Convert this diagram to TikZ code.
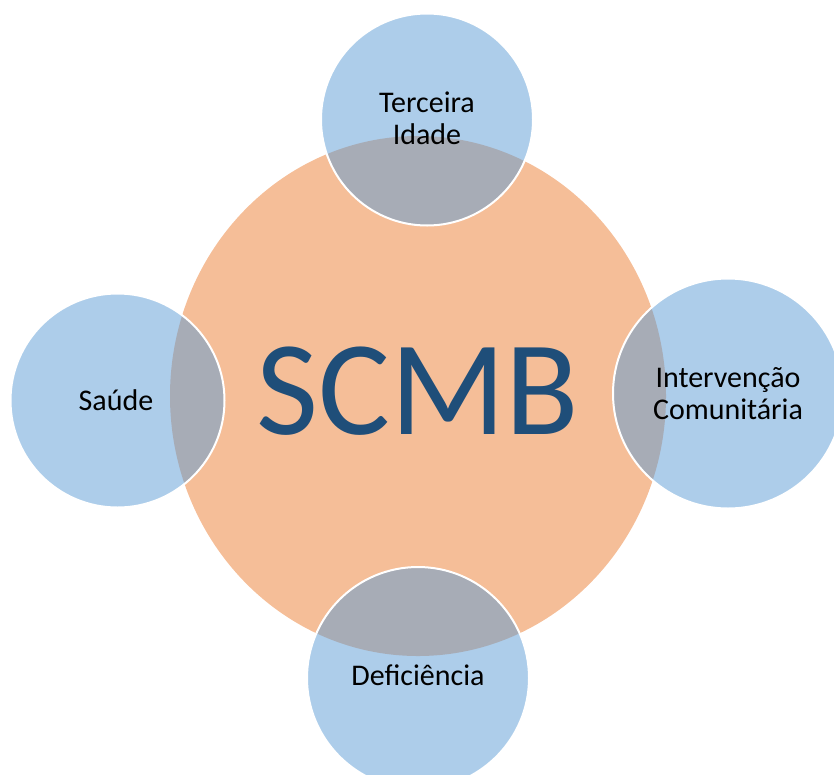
\documentclass[tikz,border=0pt]{standalone}
\usepackage{fontspec}
\setmainfont{Carlito}
\usetikzlibrary{shapes.geometric}
\definecolor{hubfill}{HTML}{F5BE98}
\definecolor{satfill}{HTML}{5B9BD5}
\definecolor{hubtext}{HTML}{1F4E79}
\tikzset{
  hub/.style={ellipse, fill=hubfill, inner sep=0pt, minimum width=496pt, minimum height=520pt},
  sat/.style={circle, fill=satfill, fill opacity=0.5, draw=white, draw opacity=1, line width=2pt, inner sep=0pt},
  satlabel/.style={align=center, font=\fontsize{30}{32}\selectfont, text=black},
  hublabel/.style={font=\fontsize{135}{135}\selectfont, text=hubtext, inner sep=0pt}
}
\begin{document}
\begin{tikzpicture}[x=1pt,y=-1pt]
\useasboundingbox (0,0) rectangle (834,774);
\node[hub] (hub) at (418,396) {};
\node[sat, minimum size=212pt] (top) at (427,119.5) {};
\node[sat, minimum size=214pt] (left) at (117.5,400.5) {};
\node[sat, minimum size=230pt] (right) at (728,393.5) {};
\node[sat, minimum size=222pt] (bottom) at (418,678) {};
\node[hublabel] (hubtxt) at (418,391.5) {SCMB};
\node[satlabel] (toptxt) at (427,118) {Terceira\\Idade};
\node[satlabel] (lefttxt) at (116,400) {Saúde};
\node[satlabel] (righttxt) at (728,394) {Intervenção\\Comunitária};
\node[satlabel] (bottomtxt) at (418,675) {Deficiência};
\end{tikzpicture}
\end{document}
